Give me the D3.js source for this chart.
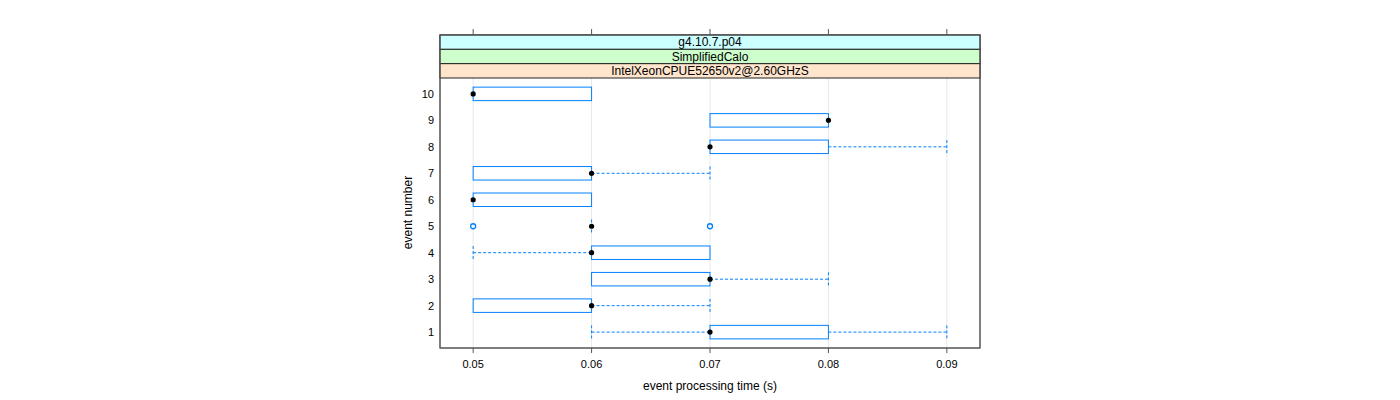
<!DOCTYPE html>
<html>
<head>
<meta charset="utf-8">
<script src="https://cdn.jsdelivr.net/npm/d3@7"></script>
<style>
  body { margin: 0; background: #fff; }
  text { font-family: "Liberation Sans", Arial, sans-serif; }
</style>
</head>
<body>
<div id="chart"></div>
<script>
// --- Data ---
const events = [1, 2, 3, 4, 5, 6, 7, 8, 9, 10];
const lowWhisker = [0.06, 0.06, 0.06, 0.05, 0.06, 0.05, 0.05, 0.07, 0.07, 0.05];
const q1        = [0.07, 0.05, 0.06, 0.06, 0.06, 0.05, 0.05, 0.07, 0.07, 0.05];
const medians   = [0.07, 0.06, 0.07, 0.06, 0.06, 0.05, 0.06, 0.07, 0.08, 0.05];
const q3        = [0.08, 0.06, 0.07, 0.07, 0.06, 0.06, 0.06, 0.08, 0.08, 0.06];
const highWhisker = [0.09, 0.07, 0.08, 0.07, 0.06, 0.06, 0.07, 0.09, 0.08, 0.06];
const outliers  = [[], [], [], [], [0.05, 0.07], [], [], [], [], []];
const xTicks = [0.05, 0.06, 0.07, 0.08, 0.09];
const strips = ["g4.10.7.p04", "SimplifiedCalo", "IntelXeonCPUE52650v2@2.60GHzS"];
const stripColors = ["#ccffff", "#ccffcc", "#ffe5cc"];

// --- Layout ---
const width = 1400, height = 400;
const panel = { left: 440, right: 980, top: 78, bottom: 348 };
const stripTop = 35;
const stripH = (panel.top - stripTop) / strips.length;
const boxColor = "#0080ff";

const svg = d3.select("#chart").append("svg")
    .attr("width", width).attr("height", height);

const x = d3.scaleLinear().domain([0.0472, 0.0928]).range([panel.left, panel.right]);
const y = d3.scaleLinear().domain([0.4, 10.6]).range([panel.bottom, panel.top]);
const boxH = 13.5;

// grid lines
svg.selectAll(".grid").data(xTicks).enter().append("line")
    .attr("x1", d => x(d)).attr("x2", d => x(d))
    .attr("y1", panel.top).attr("y2", panel.bottom)
    .attr("stroke", "#e8e8e8").attr("stroke-width", 1);

const rows = events.map((e, i) => ({
  e, lo: lowWhisker[i], q1: q1[i], med: medians[i], q3: q3[i], hi: highWhisker[i], out: outliers[i]
}));

const g = svg.append("g");
rows.forEach(r => {
  const cy = y(r.e);
  // whiskers (dashed)
  const dash = "3,2";
  if (r.lo < r.q1) {
    g.append("line").attr("x1", x(r.lo)).attr("x2", x(r.q1)).attr("y1", cy).attr("y2", cy)
      .attr("stroke", boxColor).attr("stroke-dasharray", dash);
    g.append("line").attr("x1", x(r.lo)).attr("x2", x(r.lo)).attr("y1", cy - boxH / 2).attr("y2", cy + boxH / 2)
      .attr("stroke", boxColor).attr("stroke-dasharray", dash);
  }
  if (r.hi > r.q3) {
    g.append("line").attr("x1", x(r.q3)).attr("x2", x(r.hi)).attr("y1", cy).attr("y2", cy)
      .attr("stroke", boxColor).attr("stroke-dasharray", dash);
    g.append("line").attr("x1", x(r.hi)).attr("x2", x(r.hi)).attr("y1", cy - boxH / 2).attr("y2", cy + boxH / 2)
      .attr("stroke", boxColor).attr("stroke-dasharray", dash);
  }
  // box
  if (r.q3 > r.q1) {
    g.append("rect").attr("x", x(r.q1)).attr("y", cy - boxH / 2)
      .attr("width", x(r.q3) - x(r.q1)).attr("height", boxH)
      .attr("fill", "none").attr("stroke", boxColor);
  } else {
    g.append("line").attr("x1", x(r.q1)).attr("x2", x(r.q1)).attr("y1", cy - boxH / 2).attr("y2", cy + boxH / 2)
      .attr("stroke", boxColor).attr("stroke-dasharray", "3,2");
  }
  // outliers
  r.out.forEach(o => {
    g.append("circle").attr("cx", x(o)).attr("cy", cy).attr("r", 2.5)
      .attr("fill", "none").attr("stroke", boxColor).attr("stroke-width", 1.3);
  });
  // median dot
  g.append("circle").attr("cx", x(r.med)).attr("cy", cy).attr("r", 2.6).attr("fill", "#000");
});

// panel border
svg.append("rect").attr("x", panel.left).attr("y", stripTop)
    .attr("width", panel.right - panel.left).attr("height", panel.bottom - stripTop)
    .attr("fill", "none").attr("stroke", "#555");

// strips
strips.forEach((s, i) => {
  const sy = stripTop + i * stripH;
  svg.append("rect").attr("x", panel.left).attr("y", sy)
    .attr("width", panel.right - panel.left).attr("height", stripH)
    .attr("fill", stripColors[i]).attr("stroke", "#222");
  svg.append("text").attr("x", (panel.left + panel.right) / 2).attr("y", sy + stripH / 2)
    .attr("dy", "0.36em").attr("text-anchor", "middle").attr("font-size", 12).text(s);
});
svg.append("rect").attr("x", panel.left).attr("y", stripTop)
    .attr("width", panel.right - panel.left).attr("height", panel.bottom - stripTop)
    .attr("fill", "none").attr("stroke", "#555");

// x ticks bottom and top
xTicks.forEach(t => {
  svg.append("line").attr("x1", x(t)).attr("x2", x(t)).attr("y1", panel.bottom).attr("y2", panel.bottom + 5)
    .attr("stroke", "#555");
  svg.append("line").attr("x1", x(t)).attr("x2", x(t)).attr("y1", stripTop).attr("y2", stripTop - 6)
    .attr("stroke", "#555");
  svg.append("text").attr("x", x(t)).attr("y", panel.bottom + 20)
    .attr("text-anchor", "middle").attr("font-size", 11).text(d3.format(".2f")(t));
});

// y labels
events.forEach(e => {
  svg.append("text").attr("x", panel.left - 6).attr("y", y(e)).attr("dy", "0.36em")
    .attr("text-anchor", "end").attr("font-size", 11).text(e);
});

// axis titles
svg.append("text").attr("x", (panel.left + panel.right) / 2).attr("y", 390)
  .attr("text-anchor", "middle").attr("font-size", 12).text("event processing time (s)");
svg.append("text").attr("transform", `translate(412, ${(panel.top + panel.bottom) / 2 - 0.5}) rotate(-90)`)
  .attr("text-anchor", "middle").attr("font-size", 12).text("event number");
</script>
</body>
</html>
